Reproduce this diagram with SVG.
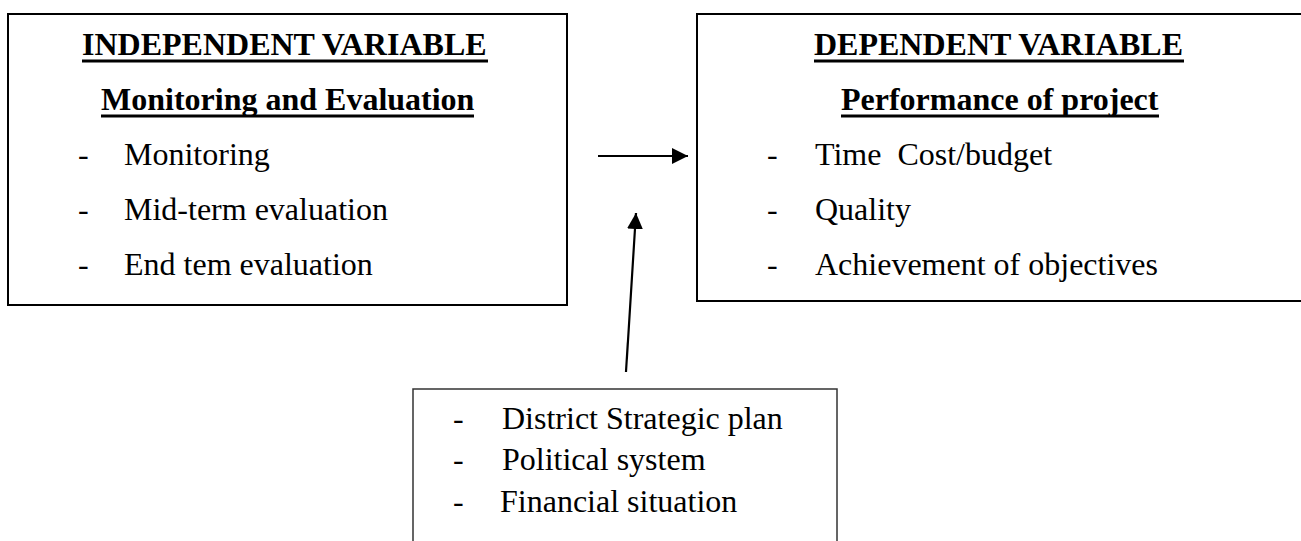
<svg xmlns="http://www.w3.org/2000/svg" width="1301" height="541" viewBox="0 0 1301 541">
  <defs>
    <marker id="arrow" viewBox="0 0 16 16" refX="16" refY="8" markerWidth="16" markerHeight="16" markerUnits="userSpaceOnUse" orient="auto">
      <path d="M0,0 L16,8 L0,16 Z" fill="#000"/>
    </marker>
    <style>
      .box { fill: #fff; stroke: #000; stroke-width: 2; }
      .box-thin { fill: #fff; stroke: #333; stroke-width: 1.5; }
      .head { font-family: "Liberation Serif", "Times New Roman", serif; font-weight: bold; font-size: 32px; fill: #000; }
      .item { font-family: "Liberation Serif", "Times New Roman", serif; font-size: 32px; fill: #000; }
      .uline { stroke: #000; stroke-width: 3; }
      .conn { stroke: #000; stroke-width: 2.2; fill: none; }
    </style>
  </defs>

  <!-- Independent variable box -->
  <g id="independent">
    <rect class="box" x="8" y="14" width="559" height="291"/>
    <text class="head" x="82" y="55">INDEPENDENT VARIABLE</text>
    <line class="uline" x1="82" y1="61" x2="488" y2="61"/>
    <text class="head" x="101" y="110">Monitoring and Evaluation</text>
    <line class="uline" x1="101" y1="116" x2="474" y2="116"/>
    <text class="item" x="78" y="165">-</text>
    <text class="item" x="124" y="165">Monitoring</text>
    <text class="item" x="78" y="220">-</text>
    <text class="item" x="124" y="220">Mid-term evaluation</text>
    <text class="item" x="78" y="275">-</text>
    <text class="item" x="124" y="275">End tem evaluation</text>
  </g>

  <!-- Dependent variable box -->
  <g id="dependent">
    <rect class="box" x="697" y="14" width="620" height="287"/>
    <text class="head" x="814" y="55">DEPENDENT VARIABLE</text>
    <line class="uline" x1="814" y1="61" x2="1184" y2="61"/>
    <text class="head" x="841" y="110">Performance of project</text>
    <line class="uline" x1="841" y1="116" x2="1159" y2="116"/>
    <text class="item" x="767" y="165">-</text>
    <text class="item" x="815" y="165" xml:space="preserve">Time  Cost/budget</text>
    <text class="item" x="767" y="220">-</text>
    <text class="item" x="815" y="220">Quality</text>
    <text class="item" x="767" y="275">-</text>
    <text class="item" x="815" y="275">Achievement of objectives</text>
  </g>

  <!-- Moderating factors box -->
  <g id="moderating">
    <rect class="box-thin" x="413" y="389" width="424" height="170"/>
    <text class="item" x="453" y="429">-</text>
    <text class="item" x="502" y="429">District Strategic plan</text>
    <text class="item" x="453" y="470">-</text>
    <text class="item" x="502" y="470">Political system</text>
    <text class="item" x="453" y="512">-</text>
    <text class="item" x="500" y="512">Financial situation</text>
  </g>

  <!-- Connectors -->
  <g id="connectors">
    <line class="conn" x1="598" y1="156" x2="688" y2="156" marker-end="url(#arrow)"/>
    <line class="conn" x1="626" y1="372" x2="636" y2="213" marker-end="url(#arrow)"/>
  </g>
</svg>
